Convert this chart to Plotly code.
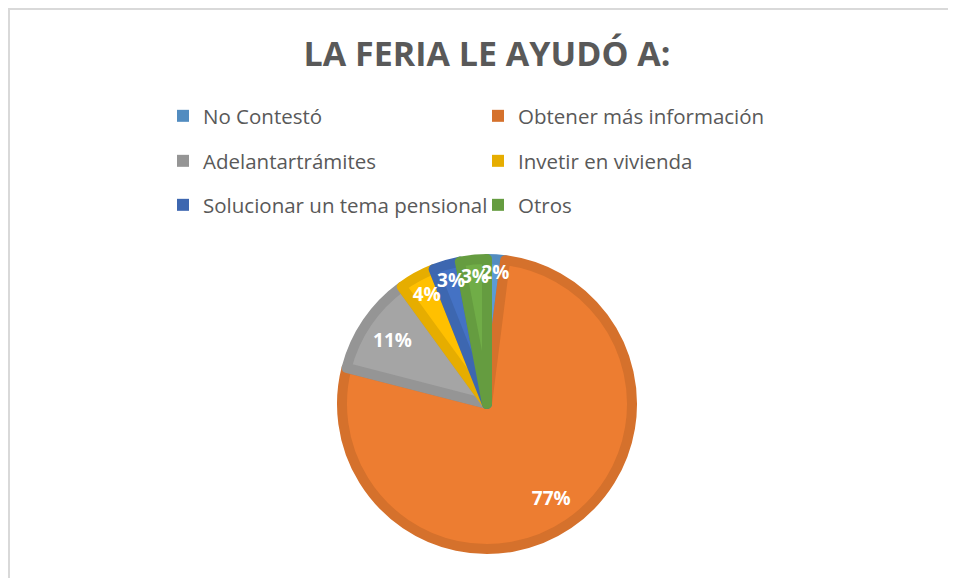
import plotly.graph_objects as go

# ---- data ----
labels = ["No Contestó", "Obtener más información", "Adelantartrámites",
          "Invetir en vivienda", "Solucionar un tema pensional", "Otros"]
values = [2, 77, 11, 4, 3, 3]
fill_colors = ["#5B9BD5", "#ED7D31", "#A5A5A5", "#FFC000", "#4472C4", "#70AD47"]
edge_colors = ["#528CC0", "#D5712C", "#959595", "#E6AD00", "#3D67B0", "#659C40"]
title_text = "LA FERIA LE AYUDÓ A:"

W, H = 956, 578
OFF = 8  # page body margin offset
FONT = "Open Sans"
GREY = "#595959"

# pie geometry (page pixels -> paper fractions)
cx, cy, r = 487 - OFF, 404 - OFF, 145
dom_x = [(cx - r) / W, (cx + r) / W]
dom_y = [(H - cy - r) / H, (H - cy + r) / H]
rl = 141  # outer radius of the label ring
lab_x = [(cx - rl) / W, (cx + rl) / W]
lab_y = [(H - cy - rl) / H, (H - cy + rl) / H]

fig = go.Figure()

# main pie with thick darker outline
fig.add_trace(go.Pie(
    labels=labels, values=values, sort=False, direction="clockwise", rotation=0,
    marker=dict(colors=fill_colors, line=dict(color=edge_colors, width=10)),
    textinfo="none", showlegend=False, hoverinfo="label+percent",
    domain=dict(x=dom_x, y=dom_y),
))

# label ring (transparent) to place percentages near the rim
fig.add_trace(go.Pie(
    labels=labels, values=values, sort=False, direction="clockwise", rotation=0,
    hole=0.62,
    marker=dict(colors=["rgba(0,0,0,0)"] * len(values), line=dict(width=0)),
    texttemplate="%{value}%", textposition="inside", insidetextorientation="horizontal",
    textfont=dict(family=FONT, size=19, color="white", weight="bold"),
    showlegend=False, hoverinfo="skip",
    domain=dict(x=lab_x, y=lab_y),
))

# legend-only pies (practically zero size), two entries per legend row
legend_names = ["legend", "legend2", "legend3"]
row_centers = [116 - OFF, 161 - OFF, 205 - OFF]
for i, lg in enumerate(legend_names):
    fig.add_trace(go.Pie(
        labels=labels[2 * i:2 * i + 2], values=values[2 * i:2 * i + 2], sort=False,
        marker=dict(colors=edge_colors[2 * i:2 * i + 2], line=dict(width=0)),
        textinfo="none", hoverinfo="skip", legend=lg,
        domain=dict(x=[0.999, 0.9995], y=[0.001, 0.0015]),
    ))

legend_common = dict(
    orientation="h", entrywidth=270, entrywidthmode="pixels",
    font=dict(family=FONT, size=20.5, color=GREY),
    bgcolor="rgba(0,0,0,0)", x=155 / W, xanchor="left", yanchor="middle",
)
layout_legends = {}
for lg, yc in zip(legend_names, row_centers):
    layout_legends[lg] = dict(legend_common, y=1 - yc / H)

fig.update_layout(
    width=W, height=H,
    margin=dict(l=0, r=0, t=0, b=0),
    paper_bgcolor="white", plot_bgcolor="white",
    title=dict(text=title_text, x=(487 - OFF) / W, xanchor="center",
               y=1 - (54 - OFF) / H, yanchor="middle", yref="container",
               font=dict(family=FONT, size=34, color=GREY, weight="bold")),
    uniformtext=dict(minsize=19, mode="show"),
    shapes=[dict(type="rect", xref="paper", yref="paper",
                 x0=1 / W, x1=1.2, y0=-0.2, y1=1 - 1 / H,
                 line=dict(color="#D9D9D9", width=2), fillcolor="rgba(0,0,0,0)",
                 layer="below")],
    **layout_legends,
)

fig.write_html("out.html")
